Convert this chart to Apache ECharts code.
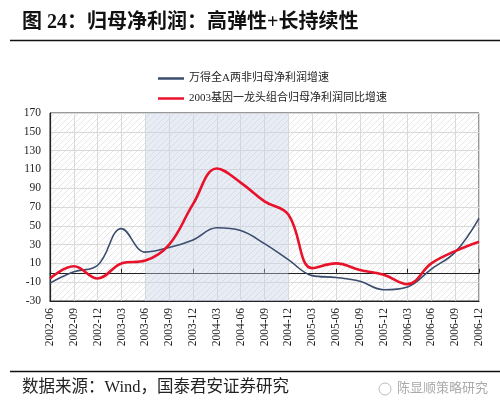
<!DOCTYPE html>
<html>
<head>
<meta charset="utf-8">
<script src="https://cdn.jsdelivr.net/npm/echarts@6/dist/echarts.min.js"></script>
<style>
html,body{margin:0;padding:0;background:#fff;}
#c{width:500px;height:414px;}
</style>
</head>
<body>
<div id="c"></div>
<script>
var categories = ['2002-06','2002-09','2002-12','2003-03','2003-06','2003-09','2003-12','2004-03','2004-06','2004-09','2004-12','2005-03','2005-06','2005-09','2005-12','2006-03','2006-06','2006-09','2006-12'];
var seriesNames = ['万得全A两非归母净利润增速','2003基因一龙头组合归母净利润同比增速'];
var wanDeA = [-11, 1, 8, 47, 22, 27, 35, 48, 45, 31, 14, -3, -5, -9, -18, -15, 4, 22, 58];
var longTou = [-6, 7, -6, 10, 13, 30, 73, 111, 96, 76, 62, 5, 10, 3, -2, -12, 10, 23, 33];
var yTicks = [-30, -10, 10, 30, 50, 70, 90, 110, 130, 150, 170];
var shadeRange = ['2003-06', '2004-12'];

var SERIF = '"Liberation Serif","Noto Sans CJK SC",serif';

// hatch pattern for plot background
var pc = document.createElement('canvas');
pc.width = 6; pc.height = 6;
var g = pc.getContext('2d');
g.fillStyle = '#ffffff'; g.fillRect(0,0,6,6);
g.strokeStyle = '#e6e6e6'; g.lineWidth = 1;
g.beginPath(); g.moveTo(0,6); g.lineTo(6,0); g.stroke();
g.beginPath(); g.moveTo(-1,1); g.lineTo(1,-1); g.stroke();
g.beginPath(); g.moveTo(5,7); g.lineTo(7,5); g.stroke();

var chart = echarts.init(document.getElementById('c'), null, {renderer:'canvas'});
chart.setOption({
  animation: false,
  backgroundColor: '#fff',
  textStyle: {fontFamily: SERIF},
  graphic: [
    {type:'text', left: 22, top: 13, style:{text:'图 24：归母净利润：高弹性+长持续性', font:'bold 20px "Liberation Serif","Noto Sans CJK SC"', fill:'#111'}},
    {type:'line', shape:{x1:10,y1:40.5,x2:500,y2:40.5}, style:{stroke:'#111', lineWidth:1.5}},
    {type:'line', shape:{x1:10,y1:371.5,x2:500,y2:371.5}, style:{stroke:'#111', lineWidth:1.5}},
    {type:'text', left: 22, top: 379, style:{text:'数据来源：Wind，国泰君安证券研究', font:'16.5px "Liberation Serif","Noto Sans CJK SC"', fill:'#222'}},
    {type:'text', left: 397, top: 381, style:{text:'陈显顺策略研究', font:'13px "Noto Sans CJK SC"', fill:'#aaa'}},
    {type:'circle', shape:{cx:385, cy:389, r:6}, style:{fill:'none', stroke:'#bbb', lineWidth:1}}
  ],
  legend: {
    orient: 'vertical',
    left: 153,
    top: 68,
    itemGap: 9,
    itemWidth: 26,
    itemHeight: 2.5,
    icon: 'rect',
    textStyle: {fontFamily: SERIF, fontSize: 11, color: '#222'},
    data: seriesNames
  },
  grid: {
    left: 50, right: 21, top: 113, bottom: 113,
    show: true,
    backgroundColor: {image: pc, repeat: 'repeat'},
    borderColor: '#333', borderWidth: 1
  },
  xAxis: [{
    type: 'category',
    data: categories,
    boundaryGap: false,
    position: 'bottom',
    axisLine: {onZero: false, lineStyle:{color:'#222', width:1.2}},
    axisTick: {show: false},
    axisLabel: {rotate: 90, fontSize: 11.5, color: '#222', fontFamily: SERIF, margin: 7},
    splitLine: {show: true, lineStyle:{color:'#d9d9d9', width:1}}
  },{
    type: 'category',
    data: categories,
    boundaryGap: false,
    position: 'top',
    axisLine: {onZero: true, lineStyle:{color:'#222', width:1.2}},
    axisTick: {show: true, length: 4, lineStyle:{color:'#222'}},
    axisLabel: {show: false},
    splitLine: {show: false}
  }],
  yAxis: {
    type: 'value',
    min: -30, max: 170,
    axisLine: {show: true, lineStyle:{color:'#222', width:1.2}},
    axisTick: {show: false, customValues: yTicks},
    axisLabel: {customValues: yTicks, fontSize: 11.5, color: '#222', fontFamily: SERIF, margin: 9},
    splitLine: {show: true, lineStyle:{color:'#d9d9d9', width:1}}
  },
  series: [{
    name: seriesNames[0],
    type: 'line',
    data: wanDeA,
    smooth: 0.4,
    showSymbol: false,
    z: 3,
    lineStyle: {color:'#3a4d6d', width: 1.6},
    itemStyle: {color:'#3a4d6d'}
  },{
    name: seriesNames[1],
    type: 'line',
    data: longTou,
    smooth: 0.4,
    showSymbol: false,
    z: 4,
    lineStyle: {color:'#e8132b', width: 2.6},
    itemStyle: {color:'#e8132b'}
  },{
    name: 'shade',
    type: 'line',
    data: [],
    z: 6,
    silent: true,
    markArea: {
      silent: true,
      itemStyle: {color: 'rgba(200,213,232,0.42)'},
      data: [[{xAxis: shadeRange[0]}, {xAxis: shadeRange[1]}]]
    }
  }]
});
</script>
</body>
</html>
